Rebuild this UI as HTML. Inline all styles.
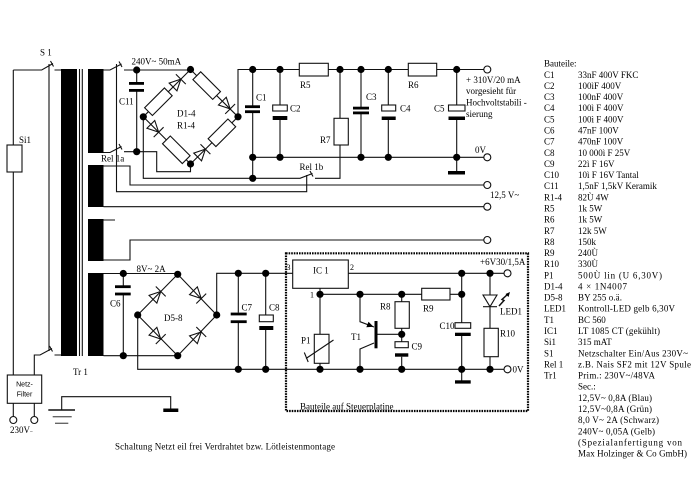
<!DOCTYPE html>
<html><head><meta charset="utf-8">
<style>
html,body{margin:0;padding:0;background:#fff;}
svg{display:block;}
text{font-family:"Liberation Serif",serif;font-size:9px;fill:#000;}
</style></head><body>
<svg width="700" height="478" viewBox="0 0 700 478" xmlns="http://www.w3.org/2000/svg">
<rect width="700" height="478" fill="#fff"/>
<g fill="none" stroke="#111" stroke-width="1.1">
<!-- primary side -->
<path d="M13.3,70 H41.7 L53,63.5 M50.5,61 L53.5,66.5 M54.5,70 H61"/>
<path d="M49,64 V351"/>
<path d="M13.3,70 V145 M13.3,172 V375"/>
<rect x="7" y="145" width="15" height="27"/>
<rect x="7.3" y="375" width="34.4" height="28.3"/>
<path d="M13.3,403.3 V416.5 M34.3,403.3 V416.5"/>
<path d="M34.3,375 V355 H40 L52,348.5 M49.5,346 L52.5,351.5 M54.5,355 H61"/>
<path d="M79.5,69 V356 M82.3,69 V356"/>
<!-- ground -->
<path d="M61.7,410 V396.7 H170.7 V409"/>
<path d="M48.3,410 H75" stroke-width="1.6"/>
<path d="M52.7,416.7 H71.7 M55,423.3 H68.3" stroke="#666" stroke-width="1.4"/>
<!-- secondary 1 -->
<path d="M103.5,70 H110 L121.5,64 M119,61.5 L122,67 M124,70 H190.5"/>
<path d="M116.5,64 V191.7 H306.7 V175"/>
<path d="M136.7,70 V83 M136.7,90.5 V151.7"/>
<path d="M103.5,152.5 H110 L121.5,146.5 M119,144 L122,149.5 M124,151.7 H156.7 V171.7 H190.5 V164"/>
<!-- bridge D1-4 -->
<polygon points="143.3,116.8 190.5,69.5 238,116.8 190.5,164"/>
<path d="M143.3,116.8 V178.3 H300 L312.5,173.5 M310,171 L313,176.5 M315,178.3 H340 V145 M340,118.3 V69.5"/>
<path d="M238,116.8 V69.5 H299.3 M328.3,69.5 H408.3 M436.7,69.5 H483.8"/>
<path d="M252.7,157.3 H483.8"/>
<rect x="334" y="118.3" width="14.3" height="26.7" fill="#fff"/>
<rect x="299.3" y="63.3" width="29" height="12.7" fill="#fff"/>
<rect x="408.3" y="63.3" width="28.4" height="12.7" fill="#fff"/>
<!-- caps HV -->
<path d="M252.7,69.5 V105.5 M252.7,112.5 V178.3"/>
<path d="M280,69.5 V105 M280,120 V157.3"/>
<rect x="272.7" y="105" width="14.6" height="6" fill="#fff"/>
<path d="M361,69.5 V107 M361,114 V157.3"/>
<path d="M388.3,69.5 V105 M388.3,120 V157.3"/>
<rect x="381.7" y="105" width="14" height="6" fill="#fff"/>
<path d="M456.7,69.5 V105 M456.7,120 V172"/>
<rect x="448.5" y="105" width="16.5" height="6" fill="#fff"/>
<!-- secondary 2,3 -->
<path d="M103.5,166 H130 V185 H483.8 M103.5,206.7 H483.8"/>
<path d="M103.5,220 H115 M103.5,260 H130 V240 H483.8"/>
<!-- secondary 4 -->
<path d="M103.5,273.5 H177.7 M103.5,355.7 H177.7"/>
<path d="M123.3,273.5 V285.5 M123.3,295 V355.7"/>
<polygon points="137.7,315 177.7,274.3 216.7,315 177.7,355.7"/>
<path d="M137.7,315 V369.3 H503.8"/>
<path d="M216.7,315 V273.3 H292.7"/>
<path d="M238.3,273.3 V312.6 M238.3,323 V369.3"/>
<path d="M265.7,273.3 V315 M265.7,330 V369.3"/>
<rect x="259.3" y="315" width="14" height="6.7" fill="#fff"/>
<!-- control board -->
<rect x="286" y="253.3" width="242" height="157.7" stroke="#000" stroke-width="2.2" stroke-dasharray="1.6,1"/>
<rect x="292.7" y="260" width="55.6" height="28.3" fill="#fff"/>
<path d="M348.3,273.3 H504"/>
<path d="M320,288.3 V334.3 M320,363.3 V369.3"/>
<rect x="314.3" y="334.3" width="14.7" height="29" fill="#fff"/>
<path d="M306,358.5 L333.5,340 M304.3,352.5 L308.2,362"/>
<path d="M320,294.3 H421.7 M450,294.3 H461.7"/>
<rect x="421.7" y="288.3" width="28.3" height="11.7" fill="#fff"/>
<path d="M401.7,294.3 V301.7 M401.7,328.3 V341.7 M401.7,356.7 V369.3"/>
<rect x="395" y="301.7" width="14.3" height="26.6" fill="#fff"/>
<rect x="395" y="341.7" width="13.3" height="6" fill="#fff"/>
<path d="M360,294.3 V321.7 L374,327 M377.5,334.3 H401.7 M374,343 L360,349 V369.3"/>
<path d="M461.7,273.3 V322.7 M461.7,336 V381"/>
<rect x="455" y="322.7" width="15.7" height="5.6" fill="#fff"/>
<path d="M490,273.3 V295 M490,306.7 V328.3 M490,356.7 V369.3"/>
<polygon points="483,295 497,295 490,306.7"/>
<path d="M483,306.7 H497"/>
<rect x="484" y="328.3" width="14.3" height="28.4" fill="#fff"/>
<path d="M499,306 L504,300.5 L502,299.5 L508,294" stroke-width="1.5"/>
</g>
<!-- filled parts -->
<g fill="#000">
<rect x="61" y="69" width="16" height="287"/>
<rect x="88" y="69" width="15.5" height="84"/>
<rect x="88" y="165" width="15.5" height="42"/>
<rect x="88" y="219" width="15.5" height="42"/>
<rect x="88" y="273" width="15.5" height="83"/>
<rect x="163.3" y="408.5" width="15" height="3.5"/>
<rect x="129" y="82" width="15" height="2.8"/>
<rect x="129" y="89" width="15" height="2.8"/>
<rect x="245" y="105.3" width="15" height="2.8"/>
<rect x="245" y="110.3" width="15" height="2.8"/>
<rect x="272.7" y="116" width="14.6" height="4"/>
<rect x="353" y="106.7" width="16" height="2.8"/>
<rect x="353" y="111.5" width="16" height="2.8"/>
<rect x="381.7" y="116.5" width="14" height="3.5"/>
<rect x="448.5" y="116.5" width="16.5" height="3.5"/>
<rect x="448" y="171" width="17" height="3.5"/>
<rect x="115" y="285.3" width="15.7" height="2.8"/>
<rect x="115" y="292.6" width="15.7" height="2.8"/>
<rect x="230.7" y="312.6" width="16" height="2.8"/>
<rect x="230.7" y="320.3" width="16" height="2.8"/>
<rect x="259.3" y="326" width="14" height="4"/>
<rect x="395" y="353.3" width="13.3" height="3.4"/>
<rect x="374.5" y="321" width="3" height="27.3"/>
<polygon points="373.5,326.8 366.3,327.3 368.5,321.7"/>
<rect x="455" y="332.7" width="15.7" height="3.3"/>
<rect x="455" y="380.3" width="15.7" height="3.3"/>
<polygon points="510,292 505.5,294 508.5,297"/>
</g>
<!-- resistors & diodes of D1-4 -->
<g fill="none" stroke="#111" stroke-width="1.1">
<g transform="translate(158.4,101.7) rotate(-45)"><rect x="-14" y="-5.5" width="28" height="11" fill="#fff"/></g>
<g transform="translate(206.7,85.6) rotate(45)"><rect x="-14" y="-5.5" width="28" height="11" fill="#fff"/></g>
<g transform="translate(176.3,149.8) rotate(45)"><rect x="-14" y="-5.5" width="28" height="11" fill="#fff"/></g>
<g transform="translate(221.9,132.8) rotate(-45)"><rect x="-14" y="-5.5" width="28" height="11" fill="#fff"/></g>
<g transform="translate(177.3,82.7) rotate(-45)"><polygon points="-6,-5.5 -6,5.5 5,0"/><path d="M5,-7 V7"/></g>
<g transform="translate(226.6,105.4) rotate(45)"><polygon points="-6,-5.5 -6,5.5 5,0"/><path d="M5,-7 V7"/></g>
<g transform="translate(155.1,128.6) rotate(45)"><polygon points="-6,-5.5 -6,5.5 5,0"/><path d="M5,-7 V7"/></g>
<g transform="translate(201.9,152.7) rotate(-45)"><polygon points="-6,-5.5 -6,5.5 5,0"/><path d="M5,-7 V7"/></g>
<!-- D5-8 -->
<g transform="translate(157.2,295) rotate(-45)"><polygon points="-6,-5.5 -6,5.5 5,0"/><path d="M5,-7 V7"/></g>
<g transform="translate(197.7,295) rotate(45)"><polygon points="-6,-5.5 -6,5.5 5,0"/><path d="M5,-7 V7"/></g>
<g transform="translate(157.2,335.5) rotate(45)"><polygon points="-6,-5.5 -6,5.5 5,0"/><path d="M5,-7 V7"/></g>
<g transform="translate(197.7,335.5) rotate(-45)"><polygon points="-6,-5.5 -6,5.5 5,0"/><path d="M5,-7 V7"/></g>
</g>
<!-- dots -->
<g fill="#000">
<circle cx="136.7" cy="70" r="3.6"/><circle cx="190.5" cy="69.5" r="3.6"/><circle cx="136.7" cy="151.7" r="3.6"/>
<circle cx="143.3" cy="116.8" r="3.6"/><circle cx="238" cy="116.8" r="3.6"/><circle cx="190.5" cy="164" r="3.6"/>
<circle cx="252.7" cy="69.5" r="3.6"/><circle cx="280" cy="69.5" r="3.6"/><circle cx="340" cy="69.5" r="3.6"/>
<circle cx="361" cy="69.5" r="3.6"/><circle cx="388.3" cy="69.5" r="3.6"/><circle cx="456.7" cy="69.5" r="3.6"/>
<circle cx="252.7" cy="157.3" r="3.6"/><circle cx="280" cy="157.3" r="3.6"/><circle cx="361" cy="157.3" r="3.6"/>
<circle cx="388.3" cy="157.3" r="3.6"/><circle cx="456.7" cy="157.3" r="3.6"/><circle cx="252.7" cy="178.3" r="3.6"/>
<circle cx="123.3" cy="273.5" r="3.6"/><circle cx="177.7" cy="274.3" r="3.6"/><circle cx="137.7" cy="315" r="3.6"/>
<circle cx="216.7" cy="315" r="3.6"/><circle cx="177.7" cy="355.7" r="3.6"/><circle cx="123.3" cy="355.7" r="3.6"/>
<circle cx="238.3" cy="273.3" r="3.6"/><circle cx="265.7" cy="273.3" r="3.6"/><circle cx="238.3" cy="369.3" r="3.6"/>
<circle cx="265.7" cy="369.3" r="3.6"/>
<circle cx="320" cy="294.3" r="3.6"/><circle cx="360" cy="294.3" r="3.6"/><circle cx="401.7" cy="294.3" r="3.6"/>
<circle cx="461.7" cy="294.3" r="3.6"/><circle cx="461.7" cy="273.3" r="3.6"/><circle cx="490" cy="273.3" r="3.6"/>
<circle cx="401.7" cy="334.3" r="3.6"/>
<circle cx="320" cy="369.3" r="3.6"/><circle cx="360" cy="369.3" r="3.6"/><circle cx="401.7" cy="369.3" r="3.6"/>
<circle cx="461.7" cy="369.3" r="3.6"/><circle cx="490" cy="369.3" r="3.6"/>
</g>
<!-- terminals -->
<g fill="#fff" stroke="#111" stroke-width="1.1">
<circle cx="487.3" cy="69.5" r="3.5"/><circle cx="487.3" cy="157.3" r="3.5"/><circle cx="487.3" cy="185" r="3.5"/>
<circle cx="487.3" cy="206.7" r="3.5"/><circle cx="487.3" cy="240" r="3.5"/>
<circle cx="507.5" cy="273.3" r="3.5"/><circle cx="507.5" cy="369.3" r="3.5"/>
<circle cx="13.3" cy="420" r="3.5"/><circle cx="34.3" cy="420" r="3.5"/>
</g>
<!-- labels -->
<text x="40" y="55.5">S 1</text>
<text x="19" y="143">Si1</text>
<text x="131.5" y="64.5">240V~ 50mA</text>
<text x="119" y="104.5">C11</text>
<text x="101" y="161.5">Rel 1a</text>
<text x="177" y="116.5">D1-4</text>
<text x="177" y="128.5">R1-4</text>
<text x="256" y="100.5">C1</text>
<text x="290" y="111.5">C2</text>
<text x="300" y="88">R5</text>
<text x="320" y="143">R7</text>
<text x="366" y="100">C3</text>
<text x="400" y="111.5">C4</text>
<text x="408" y="88">R6</text>
<text x="434" y="111.5">C5</text>
<text x="466" y="83">+ 310V/20 mA</text>
<text x="466" y="94">vorgesieht für</text>
<text x="466" y="105.5">Hochvoltstabili -</text>
<text x="466" y="117">sierung</text>
<text x="475" y="153">0V</text>
<text x="299.5" y="170">Rel 1b</text>
<text x="490" y="198">12,5 V~</text>
<text x="136.5" y="272">8V~ 2A</text>
<text x="110" y="306.5">C6</text>
<text x="164" y="321">D5-8</text>
<text x="241.5" y="310.5">C7</text>
<text x="269" y="310.5">C8</text>
<text x="73" y="375">Tr 1</text>
<text x="24.5" y="386.5" text-anchor="middle" style="font-family:'Liberation Sans',sans-serif;font-size:7px">Netz-</text>
<text x="24.5" y="396.5" text-anchor="middle" style="font-family:'Liberation Sans',sans-serif;font-size:7px">Filter</text>
<text x="10" y="433">230V<tspan style="font-size:5px">~</tspan></text>
<text x="115" y="449.5" textLength="220" lengthAdjust="spacing">Schaltung Netzt eil frei Verdrahtet bzw. Lötleistenmontage</text>
<text x="313" y="273.5">IC 1</text>
<text x="286.5" y="270" style="font-size:8px">3</text>
<text x="350" y="270" style="font-size:8px">2</text>
<text x="310" y="297.5" style="font-size:8px">1</text>
<text x="480" y="265">+6V30/1,5A</text>
<text x="380" y="309.5">R8</text>
<text x="423" y="311.5">R9</text>
<text x="351" y="340">T1</text>
<text x="301" y="343.5">P1</text>
<text x="411.5" y="349.5">C9</text>
<text x="439.5" y="329">C10</text>
<text x="500" y="314.5">LED1</text>
<text x="500" y="336.5">R10</text>
<text x="512.5" y="372.5">0V</text>
<text x="300" y="409.5">Bauteile auf Steuerplatine</text>
<!-- parts list -->
<text x="544" y="66.5">Bauteile:</text>
<text x="544" y="77.8">C1</text><text x="578" y="77.8">33nF 400V FKC</text>
<text x="544" y="88.9">C2</text><text x="578" y="88.9">100ìF 400V</text>
<text x="544" y="100.1">C3</text><text x="578" y="100.1">100nF 400V</text>
<text x="544" y="111.2">C4</text><text x="578" y="111.2">100ì F 400V</text>
<text x="544" y="122.4">C5</text><text x="578" y="122.4">100ì F 400V</text>
<text x="544" y="133.5">C6</text><text x="578" y="133.5">47nF 100V</text>
<text x="544" y="144.6">C7</text><text x="578" y="144.6">470nF 100V</text>
<text x="544" y="155.8">C8</text><text x="578" y="155.8">10 000ì F 25V</text>
<text x="544" y="166.9">C9</text><text x="578" y="166.9">22ì F 16V</text>
<text x="544" y="178.1">C10</text><text x="578" y="178.1">10ì F 16V Tantal</text>
<text x="544" y="189.2">C11</text><text x="578" y="189.2">1,5nF  1,5kV Keramik</text>
<text x="544" y="200.3">R1-4</text><text x="578" y="200.3">82Ù 4W</text>
<text x="544" y="211.5">R5</text><text x="578" y="211.5">1k 5W</text>
<text x="544" y="222.6">R6</text><text x="578" y="222.6">1k 5W</text>
<text x="544" y="233.8">R7</text><text x="578" y="233.8">12k 5W</text>
<text x="544" y="244.9">R8</text><text x="578" y="244.9">150k</text>
<text x="544" y="256">R9</text><text x="578" y="256">240Ù</text>
<text x="544" y="267.2">R10</text><text x="578" y="267.2">330Ù</text>
<text x="544" y="278.3">P1</text><text x="578" y="278.3" textLength="84" lengthAdjust="spacing">500Ù lin  (U 6,30V)</text>
<text x="544" y="289.5">D1-4</text><text x="578" y="289.5" textLength="49" lengthAdjust="spacing">4 × 1N4007</text>
<text x="544" y="300.6">D5-8</text><text x="578" y="300.6" textLength="44" lengthAdjust="spacing">BY 255 o.ä.</text>
<text x="544" y="311.7">LED1</text><text x="578" y="311.7" textLength="97" lengthAdjust="spacing">Kontroll-LED gelb 6,30V</text>
<text x="544" y="322.9">T1</text><text x="578" y="322.9">BC 560</text>
<text x="544" y="334">IC1</text><text x="578" y="334" textLength="82" lengthAdjust="spacing">LT 1085 CT (gekühlt)</text>
<text x="544" y="345.2">Si1</text><text x="578" y="345.2">315 mAT</text>
<text x="544" y="356.3">S1</text><text x="578" y="356.3" textLength="110" lengthAdjust="spacing">Netzschalter Ein/Aus 230V~</text>
<text x="544" y="367.4">Rel 1</text><text x="578" y="367.4" textLength="113" lengthAdjust="spacing">z.B. Nais SF2 mit 12V Spule</text>
<text x="544" y="378.6">Tr1</text><text x="578" y="378.6" textLength="77" lengthAdjust="spacing">Prim.: 230V~/48VA</text>
<text x="578" y="389.7">Sec.:</text>
<text x="578" y="400.9" textLength="74" lengthAdjust="spacing">12,5V~ 0,8A (Blau)</text>
<text x="578" y="412" textLength="74" lengthAdjust="spacing">12,5V~0,8A (Grün)</text>
<text x="578" y="423.1" textLength="81" lengthAdjust="spacing">8,0 V~ 2A (Schwarz)</text>
<text x="578" y="434.3" textLength="77" lengthAdjust="spacing">240V~ 0,05A (Gelb)</text>
<text x="578" y="445.4" textLength="104" lengthAdjust="spacing">(Spezialanfertigung  von</text>
<text x="578" y="456.6" textLength="109" lengthAdjust="spacing">Max Holzinger &amp; Co GmbH)</text>
</svg>
</body></html>
